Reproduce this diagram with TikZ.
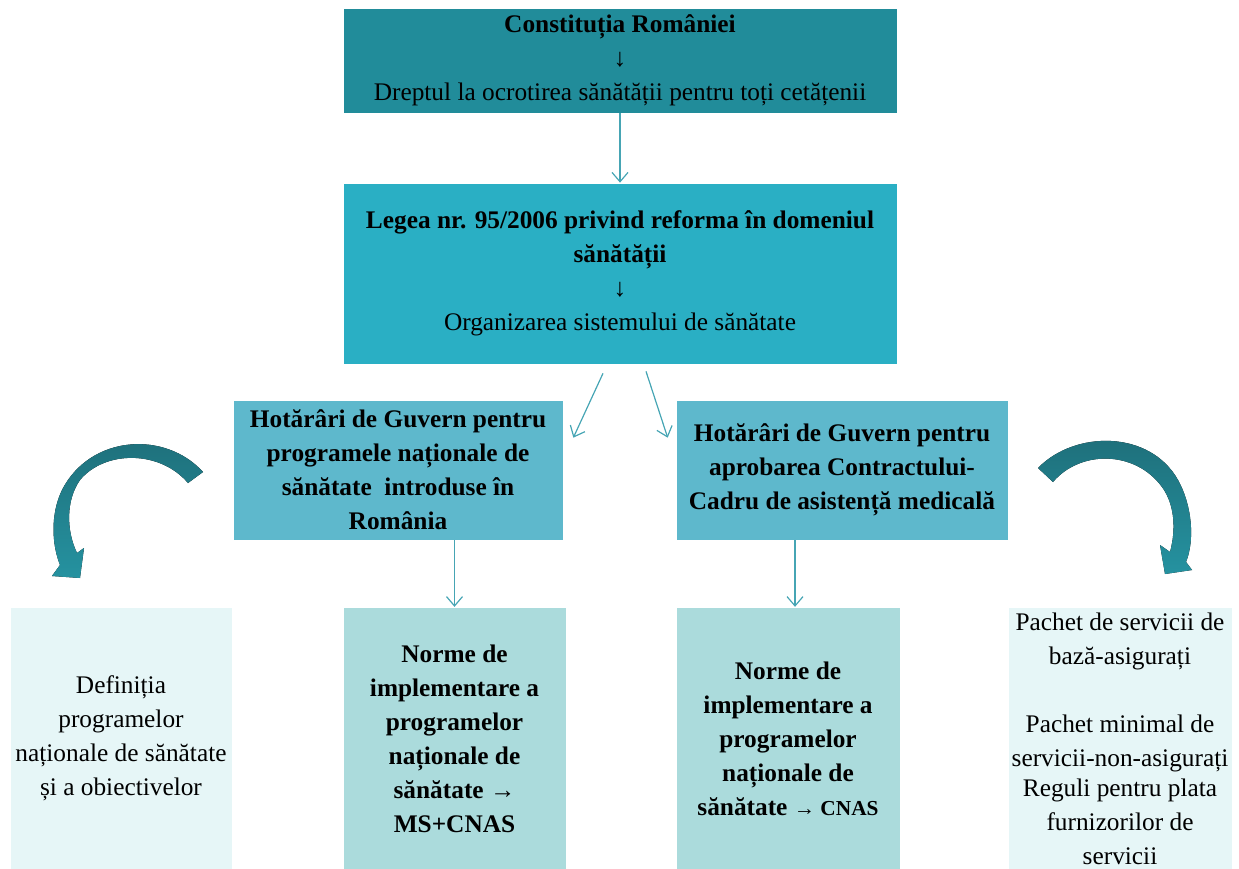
\documentclass[tikz,border=0pt]{standalone}
\usepackage{fontspec}
\setmainfont{Liberation Serif}
\usetikzlibrary{arrows.meta,calc}
\definecolor{tealtop}{HTML}{218C9A}
\definecolor{tealmid}{HTML}{2AAFC4}
\definecolor{tealhg}{HTML}{5EB8CC}
\definecolor{tealnorm}{HTML}{ABDBDC}
\definecolor{tealpale}{HTML}{E6F6F7}
\definecolor{linkc}{HTML}{46A5B4}
\definecolor{curvedark}{HTML}{1E6E79}
\definecolor{curvelight}{HTML}{2592A0}

\begin{document}
\begin{tikzpicture}[x=0.75pt,y=-0.75pt,
  box/.style={rectangle, draw=white, line width=0.5pt, align=center, inner sep=2pt,
    font=\fontsize{19}{25.5}\selectfont},
  conn/.style={draw=linkc, line width=0.9pt, -{Straight Barb[length=7pt,width=12pt]}},
  swirl/.style={top color=curvedark, bottom color=curvelight, draw=none}]
\useasboundingbox (0,0) rectangle (1239,868);

\node[box, fill=tealtop, minimum width=415.5pt, minimum height=78.75pt] (const) at (620,60.5)
  {\textbf{Constituția României}\\↓\\Dreptul la ocrotirea sănătății pentru toți cetățenii};
\node[box, fill=tealmid, minimum width=415.5pt, minimum height=135.75pt] (lege) at (620,273.5)
  {\textbf{Legea nr. 95/2006 privind reforma în domeniul}\\\textbf{sănătății}\\↓\\Organizarea sistemului de sănătate};
\node[box, fill=tealhg, minimum width=247.5pt, minimum height=105pt] (hgprog) at (398,470)
  {\textbf{Hotărâri de Guvern pentru}\\\textbf{programele naționale de}\\\textbf{sănătate \ introduse în}\\\textbf{România}};
\node[box, fill=tealhg, minimum width=249pt, minimum height=105pt] (hgcadru) at (842,470)
  {\textbf{Hotărâri de Guvern pentru}\\\textbf{aprobarea Contractului-}\\\textbf{Cadru de asistență medicală}};

%bottom row
\node[box, fill=tealpale, minimum width=166.5pt, minimum height=197pt] (defin) at (121,738.5)
  {Definiția\\programelor\\naționale de sănătate\\și a obiectivelor};
\node[box, fill=tealnorm, minimum width=167.25pt, minimum height=197pt] (normeMS) at (454.5,738.5)
  {\textbf{Norme de}\\\textbf{implementare a}\\\textbf{programelor}\\\textbf{naționale de}\\\textbf{sănătate →}\\\textbf{MS+CNAS}};
\node[box, fill=tealnorm, minimum width=168pt, minimum height=197pt] (normeCN) at (788,738.5)
  {\textbf{Norme de}\\\textbf{implementare a}\\\textbf{programelor}\\\textbf{naționale de}\\\textbf{sănătate {\fontsize{16}{25.5}\selectfont → CNAS}}};
\node[box, fill=tealpale, minimum width=168pt, minimum height=197pt] (pachet) at (1120,738.5)
  {Pachet de servicii de\\bază-asigurați\\[25.5pt]Pachet minimal de\\servicii-non-asigurați\\[-3pt]Reguli pentru plata\\furnizorilor de\\servicii};

%thin arrows
\coordinate (lfrom) at ($(lege.south)+(-17,9)$);
\coordinate (lto) at ($(hgprog.north east)+(10,38)$);
\coordinate (rfrom) at ($(lege.south)+(26,7)$);
\coordinate (rto) at ($(hgcadru.north west)+(-8,38)$);
\coordinate (cnto) at ($(normeCN.north)+(7,0)$);
\draw[conn] (const) -- (lege);
\draw[conn] (lfrom) -- (lto);
\draw[conn] (rfrom) -- (rto);
\draw[conn] (hgprog.south -| normeMS.north) -- (normeMS.north);
\draw[conn] (hgcadru.south -| cnto) -- (cnto);

%curved arrows
\fill[swirl] (203,472) .. controls (165,430) and (90,435) .. (62,490)
  .. controls (50,515) and (52,545) .. (60,565) -- (52,576) -- (80,578) -- (84,548) -- (77,553)
  .. controls (66,530) and (66,500) .. (80,480) .. controls (105,450) and (160,450) .. (188,483) -- cycle;
\fill[swirl] (1038,468) .. controls (1075,430) and (1150,430) .. (1178,480)
  .. controls (1192,505) and (1195,540) .. (1186,562) -- (1192,570) -- (1165,574) -- (1160,545) -- (1170,552)
  .. controls (1176,530) and (1175,505) .. (1162,487) .. controls (1135,450) and (1080,450) .. (1053,482) -- cycle;
\end{tikzpicture}
\end{document}
